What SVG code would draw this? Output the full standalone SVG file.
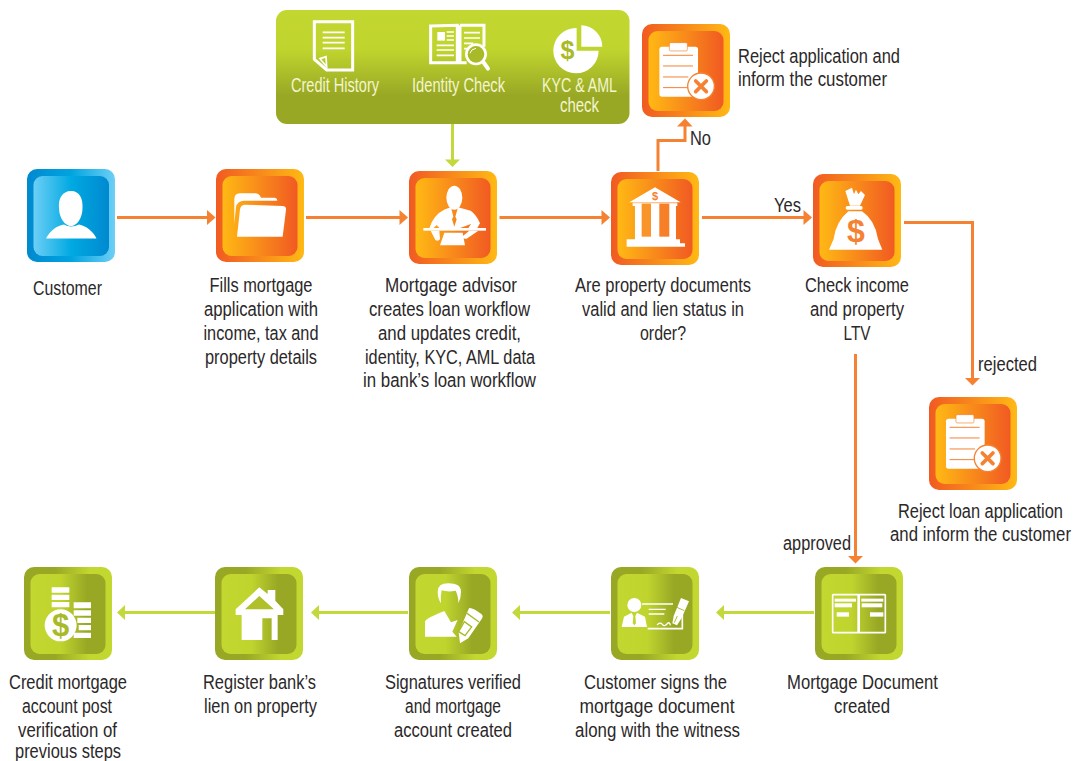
<svg xmlns="http://www.w3.org/2000/svg" width="1087" height="761" viewBox="0 0 1087 761">
<style>
text{font-family:"Liberation Sans Narrow","Liberation Sans",Arial,sans-serif;font-size:20px;fill:#2b2829;text-anchor:middle}
text.l{text-anchor:start}
text.w{fill:#f3f5cf}
.co{fill:none;stroke:#f58232;stroke-width:3}
.cg{fill:none;stroke:#c3d83a;stroke-width:3}
.ho{fill:#f58232}
.hg{fill:#c3d83a}
.i{fill:#fff}
.ln{stroke:#fff;fill:none}
</style>
<defs>
<linearGradient id="oo"><stop offset="0" stop-color="#f15a22"/><stop offset="1" stop-color="#ffb914"/></linearGradient>
<linearGradient id="oi"><stop offset="0" stop-color="#ffb914"/><stop offset="1" stop-color="#f15a22"/></linearGradient>
<linearGradient id="go"><stop offset="0" stop-color="#98a825"/><stop offset=".35" stop-color="#98a825"/><stop offset=".75" stop-color="#c2d72f"/><stop offset="1" stop-color="#c2d72f"/></linearGradient>
<linearGradient id="gi"><stop offset="0" stop-color="#c2d72f"/><stop offset=".4" stop-color="#c0d42e"/><stop offset=".75" stop-color="#98a825"/><stop offset="1" stop-color="#98a825"/></linearGradient>
<linearGradient id="bo"><stop offset="0" stop-color="#0089cf"/><stop offset=".5" stop-color="#00a4e0"/><stop offset="1" stop-color="#6dcff6"/></linearGradient>
<linearGradient id="bi"><stop offset="0" stop-color="#6dcff6"/><stop offset=".5" stop-color="#00a9e2"/><stop offset="1" stop-color="#0089cf"/></linearGradient>
<linearGradient id="top" x2="0" y2="1"><stop offset="0" stop-color="#c2d72f"/><stop offset=".35" stop-color="#c0d42e"/><stop offset=".75" stop-color="#98a825"/><stop offset="1" stop-color="#98a825"/></linearGradient>
<g id="torange"><rect width="88" height="93" rx="10" fill="url(#oo)"/><rect x="6.500" y="7" width="75" height="80" rx="9" fill="url(#oi)"/></g>
<g id="tgreen"><rect width="88" height="93" rx="10" fill="url(#go)"/><rect x="6.500" y="7" width="75" height="80" rx="9" fill="url(#gi)"/></g>
<g id="iconreject" transform="scale(.3333)">
<rect x="-37" y="-23" width="116" height="150" rx="8" class="i"/>
<rect x="-7" y="-35" width="54" height="25" rx="4" class="i" stroke="#f58232" stroke-width="2"/>
<path d="M-26 3H64M-26 35H64M-26 68H50M-26 100H50" stroke="#f58232" stroke-width="3" fill="none"/>
<circle cx="88" cy="96" r="40" class="i" stroke="#f58232" stroke-width="4"/>
<path d="M72 80L104 112M104 80L72 112" stroke="#f58232" stroke-width="11" stroke-linecap="round"/>
</g>
</defs>
<g id="connectors">
<path class="co" d="M117 217.500H209"/><path class="ho" d="M215.500 217.500L207 210V225Z"/>
<path class="co" d="M306 217.500H401"/><path class="ho" d="M408 217.500L399.500 210V225Z"/>
<path class="co" d="M499.500 217.500H603"/><path class="ho" d="M610 217.500L601.500 210V225Z"/>
<path class="co" d="M702 217.500H805"/><path class="ho" d="M812 217.500L803.500 210V225Z"/>
<path class="co" d="M658 171V140.500H685V125"/><path class="ho" d="M685 118.500L677 126.500H692.500Z"/>
<path class="co" d="M904 222.500H972.500V379"/><path class="ho" d="M972.500 385.500L965 378H980Z"/>
<path class="co" d="M855.500 354V557"/><path class="ho" d="M855.500 563.500L848 556H863Z"/>
<path class="cg" d="M452.500 124V160"/><path class="hg" d="M452.500 167L445 159.500H460Z"/>
<path class="cg" d="M814 612.500H723"/><path class="hg" d="M716 612.500L724 605V620Z"/>
<path class="cg" d="M610 612.500H518"/><path class="hg" d="M512 612.500L520 605V620Z"/>
<path class="cg" d="M408 612.500H317"/><path class="hg" d="M311 612.500L319 605V620Z"/>
<path class="cg" d="M215 612.500H123"/><path class="hg" d="M117 612.500L125 605V620Z"/>
</g>
<g id="services">
<rect x="276" y="10" width="353.500" height="114" rx="11" fill="url(#top)"/>
<g id="credit-history">
<g transform="translate(270,0) scale(.3333)">
<path d="M133 65H248V210H170L133 178Z" fill="none" stroke="#fff" stroke-width="9"/>
<path d="M158 97H224M158 113H224M158 128H224M158 145H224" class="ln" stroke-width="5"/>
<path d="M150 176L168 170L170 200Z" fill="none" stroke="#fff" stroke-width="5"/>
</g>
<text class="w" x="335" y="92" textLength="88" lengthAdjust="spacingAndGlyphs">Credit History</text>
</g>
<g id="identity-check">
<g transform="translate(270,0) scale(.3333)">
<path d="M482 78L562 76V188L482 188ZM570 76L642 76V140M570 76V188H590" fill="none" stroke="#fff" stroke-width="9"/>
<path d="M502 96H525V122H502Z" class="i"/>
<path d="M530 96H552M530 108H552M530 120H552M500 136H552M500 150H552M500 166H552M582 98H630M582 114H630M582 130H610M582 146H596" class="ln" stroke-width="5"/>
<circle cx="618" cy="163" r="29" fill="#a9ba28" stroke="#fff" stroke-width="8"/>
<path d="M640 186L654 206" class="ln" stroke-width="12" stroke-linecap="round"/>
<path d="M600 160Q603 147 618 145" class="ln" stroke-width="3"/>
</g>
<text class="w" x="458.500" y="92" textLength="93" lengthAdjust="spacingAndGlyphs">Identity Check</text>
</g>
<g id="kyc-aml">
<g transform="translate(270,0) scale(.3333)">
<path d="M920 84V152H986A68 68 0 1 1 920 84Z" class="i"/>
<path d="M934 76A64 64 0 0 1 997 140H934Z" class="i"/>
</g>
<text x="567.500" y="59" style="fill:#a9ba28;font-weight:bold;font-size:25px;font-family:'Liberation Sans',sans-serif">$</text>
<text class="w" x="579.500" y="92" textLength="75" lengthAdjust="spacingAndGlyphs">KYC &amp; AML</text>
<text class="w" x="579.500" y="112" textLength="39" lengthAdjust="spacingAndGlyphs">check</text>
</g>
</g>
<g id="customer">
<g transform="translate(27,169)"><rect width="88" height="93" rx="10" fill="url(#bo)"/><rect x="6.500" y="7" width="75.500" height="80" rx="9" fill="url(#bi)"/></g>
<path class="i" d="M71 191C80 191 83 199 82.500 208C82.500 218 77 226 71 226C65 226 59 218 59 208C58 199 62 191 71 191Z"/>
<path class="i" d="M46 238.500C50 231 56 226 64 224.500C68 227 74 227 79 224.500C86 226 93 231 96.500 238.500Z"/>
<text x="67.500" y="295" textLength="69" lengthAdjust="spacingAndGlyphs">Customer</text>
</g>
<g id="fills">
<use href="#torange" x="216" y="169"/>
<g transform="translate(0,160) scale(.3333)">
<path class="i" d="M703 118Q703 100 720 100L768 100Q778 101 783 113L825 113Q832 114 832 122L732 122Q712 122 708 142L703 192Z"/>
<path class="i" d="M735 134L848 138Q860 139 858 150L848 230H711L720 148Q722 134 735 134Z"/>
</g>
<text x="261" y="292" textLength="103" lengthAdjust="spacingAndGlyphs">Fills mortgage</text>
<text x="261" y="316" textLength="114" lengthAdjust="spacingAndGlyphs">application with</text>
<text x="261" y="340" textLength="115" lengthAdjust="spacingAndGlyphs">income, tax and</text>
<text x="261" y="364" textLength="112" lengthAdjust="spacingAndGlyphs">property details</text>
</g>
<g id="advisor">
<use href="#torange" x="409" y="171"/>
<g transform="translate(400,160) scale(.3333)">
<ellipse cx="163" cy="113" rx="24" ry="36" class="i"/>
<path class="i" d="M135 148L153 142L160 170L156 178L163 200L170 178L166 170L174 142L212 152Q230 165 240 190L232 204H205L213 192L180 204H118L110 195L100 205H88Q100 165 135 148Z"/>
<rect x="70" y="204" width="188" height="8" class="i"/>
<path class="i" d="M133 218H188L195 256H120Z"/>
<path class="i" d="M92 212H118L120 238Q114 245 106 240Z"/>
<path class="i" d="M186 230L208 212H235L200 236Q188 238 186 230Z"/>
</g>
<text x="451" y="292" textLength="132" lengthAdjust="spacingAndGlyphs">Mortgage advisor</text>
<text x="449.500" y="316" textLength="161" lengthAdjust="spacingAndGlyphs">creates loan workflow</text>
<text x="449.500" y="340" textLength="143" lengthAdjust="spacingAndGlyphs">and updates credit,</text>
<text x="450" y="364" textLength="170" lengthAdjust="spacingAndGlyphs">identity, KYC, AML data</text>
<text x="449.500" y="387" textLength="173" lengthAdjust="spacingAndGlyphs">in bank’s loan workflow</text>
</g>
<g id="bank">
<use href="#torange" x="611" y="172"/>
<g transform="translate(400,160) scale(.3333)">
<path class="i" d="M765 82L842 127H688Z"/>
<path class="i" d="M698 130H832V138H828V238H840V250H855V260H680V238H705V138H698Z"/>
<rect x="725" y="130" width="28" height="100" fill="#f8942a"/>
<rect x="778" y="130" width="30" height="100" fill="#f67f27"/>
<rect x="698" y="128" width="134" height="2" class="i"/>
</g>
<text x="655" y="200" style="fill:#f58232;font-weight:bold;font-size:11px;font-family:'Liberation Sans',sans-serif">$</text>
<text x="663" y="292" textLength="176" lengthAdjust="spacingAndGlyphs">Are property documents</text>
<text x="663" y="316" textLength="162" lengthAdjust="spacingAndGlyphs">valid and lien status in</text>
<text x="663" y="340" textLength="46" lengthAdjust="spacingAndGlyphs">order?</text>
</g>
<g id="reject-application">
<use href="#torange" x="642" y="24"/>
<use href="#iconreject" transform="translate(671.700,54.300)"/>
<text class="l" x="738" y="63" textLength="162" lengthAdjust="spacingAndGlyphs">Reject application and</text>
<text class="l" x="738" y="86" textLength="149" lengthAdjust="spacingAndGlyphs">inform the customer</text>
</g>
<g id="check-income">
<use href="#torange" x="813" y="174"/>
<g transform="translate(640,15) scale(.3333)">
<path class="i" d="M616 528L636 518L642 538L648 524L655 538L663 528L675 540L660 572H630Z"/>
<rect x="617" y="573" width="51" height="11" rx="5" class="i"/>
<path class="i" d="M625 589H666Q705 615 714 672L727 704H567L581 672Q588 620 625 589Z"/>
</g>
<text x="856" y="242" style="fill:#f58232;font-weight:bold;font-size:32px;font-family:'Liberation Sans',sans-serif">$</text>
<text x="857" y="292" textLength="104" lengthAdjust="spacingAndGlyphs">Check income</text>
<text x="857" y="316" textLength="94" lengthAdjust="spacingAndGlyphs">and property</text>
<text x="857" y="340" textLength="27" lengthAdjust="spacingAndGlyphs">LTV</text>
</g>
<g id="reject-loan">
<use href="#torange" x="929" y="397"/>
<use href="#iconreject" transform="translate(958.300,426.300)"/>
<text class="l" x="898" y="518" textLength="165" lengthAdjust="spacingAndGlyphs">Reject loan application</text>
<text class="l" x="890" y="541" textLength="181" lengthAdjust="spacingAndGlyphs">and inform the customer</text>
</g>
<g id="mortgage-document">
<use href="#tgreen" x="815" y="567"/>
<g transform="translate(800,350) scale(.3333)">
<rect x="98" y="734" width="158" height="114" rx="2" fill="none" stroke="#fff" stroke-width="5"/>
<rect x="172" y="734" width="8" height="114" class="i"/>
<rect x="104" y="746" width="64" height="9" class="i"/><rect x="104" y="760" width="52" height="12" class="i"/><rect x="110" y="787" width="37" height="13" class="i"/>
<rect x="184" y="746" width="66" height="9" class="i"/><rect x="185" y="760" width="62" height="12" class="i"/><rect x="210" y="787" width="40" height="13" class="i"/>
</g>
<text x="862.500" y="689" textLength="151" lengthAdjust="spacingAndGlyphs">Mortgage Document</text>
<text x="862" y="713" textLength="56" lengthAdjust="spacingAndGlyphs">created</text>
</g>
<g id="customer-signs">
<use href="#tgreen" x="611" y="567"/>
<g transform="translate(617,590) scale(.3333)">
<path d="M75 42H168M196 60V116H92" fill="none" stroke="#fff" stroke-width="5"/>
<circle cx="52" cy="45" r="21" class="i"/>
<path class="i" d="M14 111L21 80L44 68L49 78L47 100L52 106L57 100L55 78L60 68L84 80L90 111Z"/>
<path d="M95 58H146M95 72H142M120 105Q130 95 136 103T150 102T160 106" class="ln" stroke-width="4"/>
<path class="i" d="M192 24L216 34L194 84L180 106L166 100L170 78Z"/>
<path d="M180 52L202 62M172 98L181 78" fill="none" stroke="#adbd29" stroke-width="3"/>
</g>
<text x="655.500" y="689" textLength="143" lengthAdjust="spacingAndGlyphs">Customer signs the</text>
<text x="657" y="713" textLength="155" lengthAdjust="spacingAndGlyphs">mortgage document</text>
<text x="657.500" y="737" textLength="165" lengthAdjust="spacingAndGlyphs">along with the witness</text>
</g>
<g id="signatures">
<use href="#tgreen" x="409" y="567"/>
<g transform="translate(415,575) scale(.3333)">
<path class="i" d="M68 50Q68 25 100 25Q138 25 138 50Q138 70 130 85Q130 62 122 47Q100 52 80 46Q76 62 78 85Q68 70 68 50Z"/>
<path class="i" d="M30 185V140Q32 130 88 108L108 142L128 135L112 170L125 185Z"/>
<path class="i" d="M162 100Q170 96 200 118Q206 124 200 132L160 190L135 205L131 172Z"/>
<path d="M153 113L192 141M148 140L170 156L150 182L131 170Z" fill="none" stroke="#a9ba28" stroke-width="4"/>
</g>
<text x="453" y="689" textLength="136" lengthAdjust="spacingAndGlyphs">Signatures verified</text>
<text x="453" y="713" textLength="96" lengthAdjust="spacingAndGlyphs">and mortgage</text>
<text x="453" y="737" textLength="118" lengthAdjust="spacingAndGlyphs">account created</text>
</g>
<g id="register-lien">
<use href="#tgreen" x="215" y="567"/>
<g transform="translate(0,560) scale(.3333)">
<path class="i" d="M778 82L803 102V90H826V122L850 148V165H833V240H815V175H787V240H725V165H707V148Z"/>
<path fill="#b0c02a" d="M778 108L735 148H822Z"/>
</g>
<text x="259.500" y="689" textLength="113" lengthAdjust="spacingAndGlyphs">Register bank’s</text>
<text x="260.500" y="713" textLength="113" lengthAdjust="spacingAndGlyphs">lien on property</text>
</g>
<g id="credit-account">
<use href="#tgreen" x="24" y="567"/>
<g transform="translate(0,560) scale(.3333)">
<path class="i" d="M155 82H208V98H155ZM155 104H208V120H155ZM155 126H208V142H155ZM221 127H273V145H221ZM221 151H273V167H221ZM232 173H273V189H232ZM236 195H273V211H236ZM221 218H273V234H221Z"/>
<circle cx="182" cy="196" r="48" class="i"/>
</g>
<text x="60.500" y="636" style="fill:#a9ba28;font-weight:bold;font-size:31px;font-family:'Liberation Sans',sans-serif">$</text>
<text x="68" y="689" textLength="118" lengthAdjust="spacingAndGlyphs">Credit mortgage</text>
<text x="67" y="713" textLength="90" lengthAdjust="spacingAndGlyphs">account post</text>
<text x="67.500" y="737" textLength="99" lengthAdjust="spacingAndGlyphs">verification of</text>
<text x="68" y="758" textLength="106" lengthAdjust="spacingAndGlyphs">previous steps</text>
</g>
<g id="labels">
<text x="700.500" y="145" textLength="21" lengthAdjust="spacingAndGlyphs">No</text>
<text x="787.500" y="212" textLength="27" lengthAdjust="spacingAndGlyphs">Yes</text>
<text x="1007.500" y="371" textLength="59" lengthAdjust="spacingAndGlyphs">rejected</text>
<text x="817" y="550" textLength="68" lengthAdjust="spacingAndGlyphs">approved</text>
</g>
</svg>
